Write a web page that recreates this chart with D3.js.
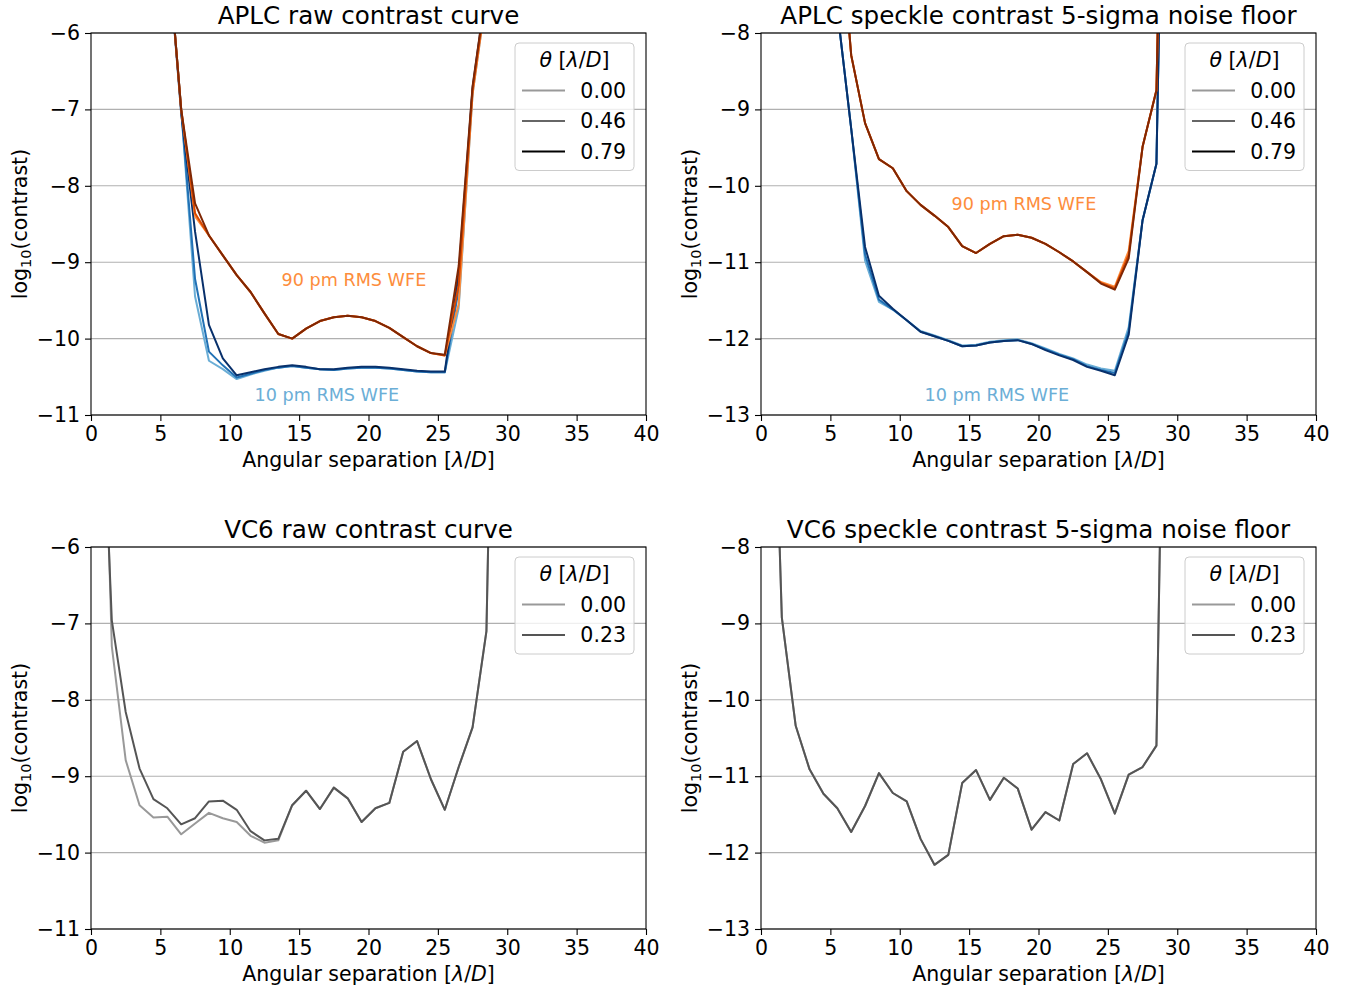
<!DOCTYPE html>
<html>
<head>
<meta charset="utf-8">
<script src="https://cdnjs.cloudflare.com/ajax/libs/d3/7.8.5/d3.min.js"></script>
<style>
  body { margin: 0; background: #fff; }
  text { font-family: "DejaVu Sans", sans-serif; }
</style>
</head>
<body>
<div id="chart"></div>
<script>
// separations [lambda/D]
var aplcSep = [5.5, 6.5, 7.5, 8.5, 9.5, 10.5, 11.5, 12.5, 13.5, 14.5, 15.5, 16.5, 17.5,
               18.5, 19.5, 20.5, 21.5, 22.5, 23.5, 24.5, 25.5, 26.5, 27.5, 28.5, 29.5];
var vc6Sep = [0.5, 1.5, 2.5, 3.5, 4.5, 5.5, 6.5, 7.5, 8.5, 9.5, 10.5, 11.5, 12.5, 13.5, 14.5,
              15.5, 16.5, 17.5, 18.5, 19.5, 20.5, 21.5, 22.5, 23.5, 24.5, 25.5, 26.5, 27.5, 28.5, 29.5];

// APLC raw contrast, 10 pm RMS WFE, tip/tilt 0.00 / 0.46 / 0.79
var aplcRaw10_000 = [-4.8, -7.0, -9.45, -10.29, -10.40, -10.53, -10.47, -10.42, -10.38, -10.36, -10.38, -10.40, -10.41,
                     -10.39, -10.38, -10.38, -10.39, -10.41, -10.43, -10.44, -10.44, -9.60, -6.80, -5.5, -4.5];
var aplcRaw10_046 = [-4.8, -7.0, -9.22, -10.17, -10.35, -10.51, -10.46, -10.41, -10.38, -10.36, -10.38, -10.40, -10.41,
                     -10.39, -10.38, -10.38, -10.39, -10.41, -10.43, -10.44, -10.44, -9.35, -6.75, -5.45, -4.5];
var aplcRaw10_079 = [-4.8, -7.05, -8.60, -9.82, -10.26, -10.48, -10.44, -10.40, -10.37, -10.35, -10.37, -10.40, -10.40,
                     -10.38, -10.37, -10.37, -10.38, -10.40, -10.42, -10.43, -10.43, -9.15, -6.72, -5.4, -4.5];
// APLC raw contrast, 90 pm RMS WFE
var aplcRaw90_000 = [-4.8, -7.0, -8.40, -8.65, -8.91, -9.17, -9.39, -9.67, -9.94, -10.00, -9.87, -9.77, -9.72,
                     -9.70, -9.72, -9.77, -9.86, -9.98, -10.10, -10.19, -10.22, -9.55, -6.80, -5.5, -4.5];
var aplcRaw90_046 = [-4.8, -7.0, -8.36, -8.65, -8.91, -9.17, -9.39, -9.67, -9.94, -10.00, -9.87, -9.77, -9.72,
                     -9.70, -9.72, -9.77, -9.86, -9.98, -10.10, -10.19, -10.22, -9.30, -6.75, -5.45, -4.5];
var aplcRaw90_079 = [-4.8, -7.0, -8.23, -8.65, -8.91, -9.17, -9.39, -9.67, -9.94, -10.00, -9.87, -9.77, -9.72,
                     -9.70, -9.72, -9.77, -9.86, -9.98, -10.10, -10.19, -10.21, -9.05, -6.70, -5.4, -4.5];

// APLC speckle 5-sigma noise floor
var aplcSpk10_000 = [-7.7, -9.25, -10.98, -11.52, -11.62, -11.76, -11.90, -11.96, -12.02, -12.09, -12.08, -12.04, -12.02,
                     -12.01, -12.06, -12.13, -12.20, -12.26, -12.34, -12.39, -12.42, -11.85, -10.45, -9.71, 0];
var aplcSpk10_046 = [-7.7, -9.25, -10.90, -11.49, -11.62, -11.76, -11.91, -11.97, -12.03, -12.10, -12.09, -12.05, -12.03,
                     -12.02, -12.07, -12.14, -12.21, -12.27, -12.36, -12.41, -12.45, -11.90, -10.45, -9.71, 0];
var aplcSpk10_079 = [-7.7, -9.25, -10.80, -11.44, -11.61, -11.76, -11.91, -11.97, -12.03, -12.10, -12.09, -12.05, -12.03,
                     -12.02, -12.07, -12.15, -12.22, -12.28, -12.37, -12.42, -12.48, -11.95, -10.45, -9.71, 0];
var aplcSpk90_000 = [-6.1, -8.29, -9.18, -9.65, -9.77, -10.07, -10.25, -10.39, -10.54, -10.79, -10.88, -10.76, -10.66,
                     -10.64, -10.68, -10.76, -10.87, -10.99, -11.13, -11.26, -11.32, -10.85, -9.49, -8.75, 0];
var aplcSpk90_046 = [-6.1, -8.29, -9.18, -9.65, -9.77, -10.07, -10.25, -10.39, -10.54, -10.79, -10.88, -10.76, -10.66,
                     -10.64, -10.68, -10.76, -10.87, -10.99, -11.13, -11.27, -11.34, -10.90, -9.49, -8.75, 0];
var aplcSpk90_079 = [-6.1, -8.29, -9.18, -9.65, -9.77, -10.07, -10.25, -10.39, -10.54, -10.79, -10.88, -10.76, -10.66,
                     -10.64, -10.68, -10.76, -10.87, -10.99, -11.13, -11.28, -11.36, -10.95, -9.49, -8.75, 0];

// VC6 raw contrast, tip/tilt 0.00 / 0.23
var vc6Raw_000 = [-1.0, -7.30, -8.79, -9.38, -9.54, -9.53, -9.76, -9.62, -9.48, -9.55, -9.60, -9.78, -9.87, -9.84, -9.38,
                  -9.19, -9.43, -9.15, -9.29, -9.60, -9.42, -9.35, -8.68, -8.54, -9.04, -9.44, -8.88, -8.36, -7.10, 2.0];
var vc6Raw_023 = [-2.5, -6.96, -8.16, -8.90, -9.30, -9.42, -9.63, -9.55, -9.33, -9.32, -9.44, -9.72, -9.84, -9.82, -9.38,
                  -9.19, -9.43, -9.15, -9.29, -9.60, -9.42, -9.35, -8.68, -8.54, -9.04, -9.44, -8.88, -8.36, -7.10, 2.0];
// VC6 speckle 5-sigma noise floor
var vc6Spk_000 = [-3.0, -8.92, -10.34, -10.91, -11.23, -11.42, -11.73, -11.39, -10.96, -11.22, -11.33, -11.82, -12.16, -12.03, -11.09,
                  -10.92, -11.31, -11.02, -11.16, -11.70, -11.47, -11.58, -10.84, -10.70, -11.04, -11.49, -10.98, -10.88, -10.60, 0];
var vc6Spk_023 = [-3.0, -8.92, -10.34, -10.91, -11.23, -11.42, -11.73, -11.39, -10.96, -11.22, -11.33, -11.82, -12.16, -12.03, -11.09,
                  -10.92, -11.31, -11.02, -11.16, -11.70, -11.47, -11.58, -10.84, -10.70, -11.04, -11.49, -10.98, -10.88, -10.60, 0];

var aplcAngles = ["0.00", "0.46", "0.79"];
var vc6Angles = ["0.00", "0.23"];
var xTicks = [0, 5, 10, 15, 20, 25, 30, 35, 40];

var BLUES = ["#6baed6", "#2171b5", "#08306b"];
var ORANGES = ["#fd8d3c", "#d94801", "#7f2704"];
var GRAYS3 = ["#999999", "#666666", "#000000"];
var GRAYS2 = ["#999999", "#555555"];

var FONT = 20.5;
var PW = 555, PH = 382;

var svg = d3.select("#chart").append("svg")
            .attr("width", 1348)
            .attr("height", 987);

function zip(xs, ys)
{
  return xs.map(function(v, i) { return { x: v, y: ys[i] }; });
}

function drawPanel(p, idx)
{
  var x = d3.scaleLinear().domain([0, 40]).range([p.left, p.left + PW]);
  var y = d3.scaleLinear().domain(p.yDomain).range([p.top + PH, p.top]);
  var g = svg.append("g");

  var clipId = "clip" + idx;
  svg.append("clipPath").attr("id", clipId)
     .append("rect")
     .attr("x", p.left).attr("y", p.top)
     .attr("width", PW).attr("height", PH);

  // horizontal grid
  g.append("g").selectAll("line")
   .data(p.yTicks)
   .enter().append("line")
   .attr("x1", p.left).attr("x2", p.left + PW)
   .attr("y1", function(t) { return y(t); })
   .attr("y2", function(t) { return y(t); })
   .attr("stroke", "#b0b0b0")
   .attr("stroke-width", 1.1);

  var line = d3.line()
               .x(function(d) { return x(d.x); })
               .y(function(d) { return y(d.y); });

  var lines = g.append("g").attr("clip-path", "url(#" + clipId + ")");
  p.series.forEach(function(s) {
    lines.append("path")
         .datum(zip(s.sep, s.values))
         .attr("d", line)
         .attr("fill", "none")
         .attr("stroke", s.color)
         .attr("stroke-width", 2)
         .attr("stroke-linejoin", "round");
  });

  // annotations
  (p.notes || []).forEach(function(n) {
    g.append("text")
     .attr("x", x(n.x)).attr("y", y(n.y))
     .attr("dy", "0.36em")
     .attr("text-anchor", "middle")
     .attr("fill", n.color)
     .attr("font-size", 17.6)
     .text(n.text);
  });

  // axes
  var xAxis = g.append("g")
               .attr("transform", "translate(0," + (p.top + PH) + ")")
               .call(d3.axisBottom(x).tickValues(xTicks).tickSize(6).tickPadding(5).tickFormat(d3.format("d")));
  var yAxis = g.append("g")
               .attr("transform", "translate(" + p.left + ",0)")
               .call(d3.axisLeft(y).tickValues(p.yTicks).tickSize(6).tickPadding(5).tickFormat(d3.format("d")));
  [xAxis, yAxis].forEach(function(a) {
    a.select(".domain").remove();
    a.selectAll("line").attr("stroke", "#000").attr("stroke-width", 1.1);
    a.selectAll("text").attr("font-size", FONT).attr("font-family", "DejaVu Sans").attr("fill", "#000");
  });

  // frame
  g.append("rect")
   .attr("x", p.left).attr("y", p.top)
   .attr("width", PW).attr("height", PH)
   .attr("fill", "none")
   .attr("stroke", "#000")
   .attr("stroke-width", 1.1);

  // title
  g.append("text")
   .attr("x", p.left + PW / 2).attr("y", p.top - 9)
   .attr("text-anchor", "middle")
   .attr("font-size", 24.6)
   .text(p.title);

  // x label
  var xl = g.append("text")
            .attr("x", p.left + PW / 2).attr("y", p.top + PH + 52)
            .attr("text-anchor", "middle")
            .attr("font-size", FONT);
  xl.append("tspan").text("Angular separation [");
  xl.append("tspan").attr("font-style", "italic").text("λ");
  xl.append("tspan").text("/");
  xl.append("tspan").attr("font-style", "italic").text("D");
  xl.append("tspan").text("]");

  // y label
  var yl = g.append("text")
            .attr("transform", "translate(" + (p.left - 64) + "," + (p.top + PH / 2) + ") rotate(-90)")
            .attr("text-anchor", "middle")
            .attr("font-size", FONT);
  yl.append("tspan").text("log");
  yl.append("tspan").attr("font-size", 14.5).attr("dy", 4).text("10");
  yl.append("tspan").attr("dy", -4).text("(contrast)");

  // legend
  var lw = 119, rowH = 30.5;
  var lh = 36 + p.legend.labels.length * rowH;
  var lx = p.left + PW - 12 - lw, ly = p.top + 10;
  var lg = g.append("g");
  lg.append("rect")
    .attr("x", lx).attr("y", ly)
    .attr("width", lw).attr("height", lh)
    .attr("rx", 4)
    .attr("fill", "#fff").attr("fill-opacity", 0.8)
    .attr("stroke", "#cccccc").attr("stroke-width", 1);
  var lt = lg.append("text")
             .attr("x", lx + lw / 2).attr("y", ly + 24)
             .attr("text-anchor", "middle")
             .attr("font-size", FONT);
  lt.append("tspan").attr("font-style", "italic").text("θ");
  lt.append("tspan").text(" [");
  lt.append("tspan").attr("font-style", "italic").text("λ");
  lt.append("tspan").text("/");
  lt.append("tspan").attr("font-style", "italic").text("D");
  lt.append("tspan").text("]");
  p.legend.labels.forEach(function(lab, i) {
    var ry = ly + 47.5 + i * rowH;
    lg.append("line")
      .attr("x1", lx + 7).attr("x2", lx + 50)
      .attr("y1", ry).attr("y2", ry)
      .attr("stroke", p.legend.colors[i])
      .attr("stroke-width", 2);
    lg.append("text")
      .attr("x", lx + lw - 8).attr("y", ry)
      .attr("dy", "0.36em")
      .attr("text-anchor", "end")
      .attr("font-size", FONT)
      .text(lab);
  });
}

function aplcSeries(s10, s90)
{
  var out = [];
  s10.forEach(function(v, i) { out.push({ sep: aplcSep, values: v, color: BLUES[i] }); });
  s90.forEach(function(v, i) { out.push({ sep: aplcSep, values: v, color: ORANGES[i] }); });
  return out;
}

var panels = [
  {
    title: "APLC raw contrast curve",
    left: 91, top: 33,
    yDomain: [-11, -6], yTicks: [-11, -10, -9, -8, -7, -6],
    series: aplcSeries([aplcRaw10_000, aplcRaw10_046, aplcRaw10_079],
                       [aplcRaw90_000, aplcRaw90_046, aplcRaw90_079]),
    notes: [
      { text: "90 pm RMS WFE", x: 18.95, y: -9.23, color: ORANGES[0] },
      { text: "10 pm RMS WFE", x: 17.0, y: -10.73, color: BLUES[0] }
    ],
    legend: { labels: aplcAngles, colors: GRAYS3 }
  },
  {
    title: "APLC speckle contrast 5-sigma noise floor",
    left: 761, top: 33,
    yDomain: [-13, -8], yTicks: [-13, -12, -11, -10, -9, -8],
    series: aplcSeries([aplcSpk10_000, aplcSpk10_046, aplcSpk10_079],
                       [aplcSpk90_000, aplcSpk90_046, aplcSpk90_079]),
    notes: [
      { text: "90 pm RMS WFE", x: 18.95, y: -10.23, color: ORANGES[0] },
      { text: "10 pm RMS WFE", x: 17.0, y: -12.73, color: BLUES[0] }
    ],
    legend: { labels: aplcAngles, colors: GRAYS3 }
  },
  {
    title: "VC6 raw contrast curve",
    left: 91, top: 547,
    yDomain: [-11, -6], yTicks: [-11, -10, -9, -8, -7, -6],
    series: [
      { sep: vc6Sep, values: vc6Raw_000, color: GRAYS2[0] },
      { sep: vc6Sep, values: vc6Raw_023, color: GRAYS2[1] }
    ],
    legend: { labels: vc6Angles, colors: GRAYS2 }
  },
  {
    title: "VC6 speckle contrast 5-sigma noise floor",
    left: 761, top: 547,
    yDomain: [-13, -8], yTicks: [-13, -12, -11, -10, -9, -8],
    series: [
      { sep: vc6Sep, values: vc6Spk_000, color: GRAYS2[0] },
      { sep: vc6Sep, values: vc6Spk_023, color: GRAYS2[1] }
    ],
    legend: { labels: vc6Angles, colors: GRAYS2 }
  }
];

panels.forEach(drawPanel);
</script>
</body>
</html>
